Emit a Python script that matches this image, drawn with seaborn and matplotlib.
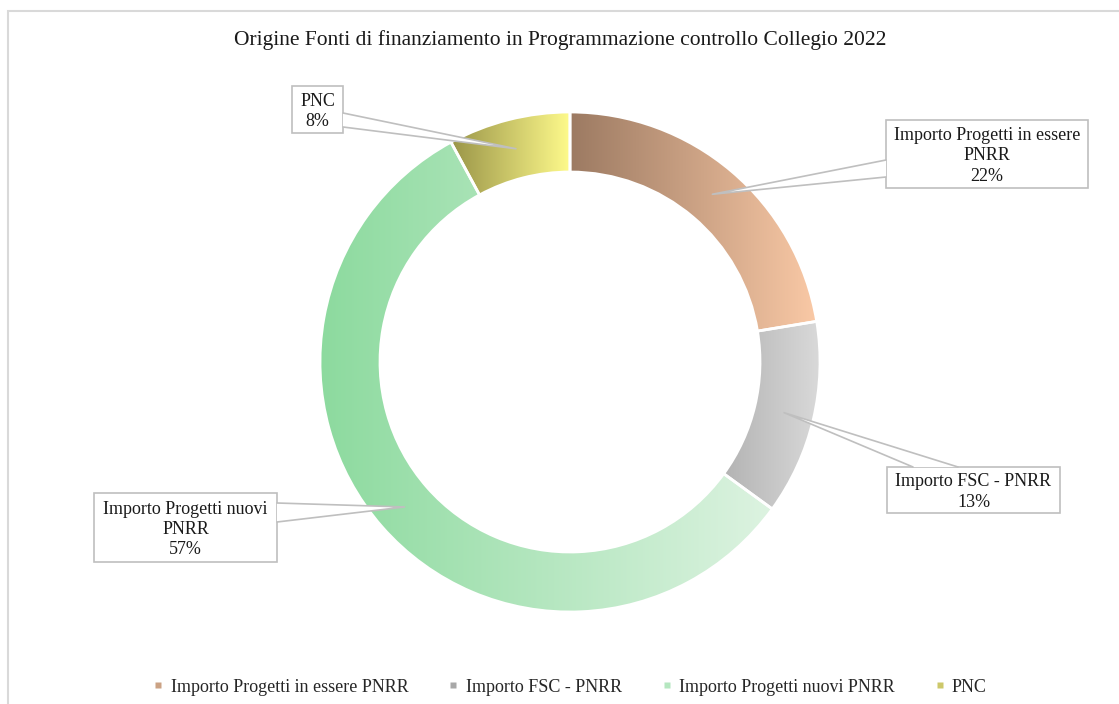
import numpy as np
import matplotlib.pyplot as plt
import seaborn as sns
from matplotlib.patches import Rectangle, Polygon
from matplotlib.lines import Line2D

# dati (quote percentuali)
categorie = ["Importo Progetti in essere PNRR", "Importo FSC - PNRR",
             "Importo Progetti nuovi PNRR", "PNC"]
etichette = ["Importo Progetti in essere\nPNRR", "Importo FSC - PNRR",
             "Importo Progetti nuovi\nPNRR", "PNC"]
quote = [22.4, 12.6, 57.1, 7.9]

# gradienti (sinistra -> destra)
col_sx = ["#9c7a62", "#767676", "#8cda9e", "#9a9548"]
col_dx = ["#fac9a6", "#dadada", "#ddf3e1", "#fffb8c"]

titolo = "Origine Fonti di finanziamento in Programmazione controllo Collegio 2022"

sns.set_theme(style="white")
plt.rcParams["font.family"] = ["Liberation Serif", "DejaVu Serif"]

W, H = 1119, 704
fig = plt.figure(figsize=(W / 100, H / 100), dpi=100)
fig.patch.set_facecolor("white")

# centro ciambella (pixel) e raggio
cx, cy, R = 570, 342, 250
ax = fig.add_axes([(cx - R) / W, (cy - R) / H, 2 * R / W, 2 * R / H])
ax.axis("off")

wedges, _ = ax.pie(quote, startangle=90, counterclock=False, radius=1,
                   wedgeprops=dict(width=0.24, edgecolor="white", linewidth=2))

for w, c1, c2 in zip(wedges, col_sx, col_dx):
    verts = w.get_patch_transform().transform(w.get_path().vertices)
    x0, x1 = verts[:, 0].min(), verts[:, 0].max()
    y0, y1 = verts[:, 1].min(), verts[:, 1].max()
    cmap = sns.blend_palette([c1, c2], 256, as_cmap=True)
    grad = np.linspace(0, 1, 256).reshape(1, -1)
    im = ax.imshow(grad, cmap=cmap, extent=[x0, x1, y0, y1], aspect="auto",
                   interpolation="bilinear", zorder=1)
    im.set_clip_path(w)
    w.set_facecolor("none")
    w.set_zorder(2)

ax.set_xlim(-1, 1)
ax.set_ylim(-1, 1)

# riquadri etichette in pixel (x0, x1, y0_top, y1_top) e base del puntatore
def px(x, y):
    return ((x - 570) / R, (362 - y) / R)

box_px = [(886, 1088, 120, 188), (887, 1060, 467, 513),
          (94, 277, 493, 562), (292, 343, 86, 133)]
base_px = [((886, 160), (886, 177)), ((913, 467), (958, 467)),
           ((277, 503), (277, 522)), ((343, 113), (343, 127))]

grigio = "#bfbfbf"
for w, lab, q, b, bp in zip(wedges, etichette, quote, box_px, base_px):
    mid = np.deg2rad((w.theta1 + w.theta2) / 2)
    tip = (0.88 * np.cos(mid), 0.88 * np.sin(mid))
    (bx0, by0), (bx1, by1) = px(b[0], b[2]), px(b[1], b[3])
    ax.add_patch(Rectangle((bx0, by1), bx1 - bx0, by0 - by1, fc="white",
                           ec=grigio, lw=1.2, zorder=5, clip_on=False))
    p1, p2 = px(*bp[0]), px(*bp[1])
    ax.add_patch(Polygon([p1, tip, p2], closed=True, fc="white", ec="none",
                         zorder=6, clip_on=False))
    ax.add_line(Line2D([p1[0], tip[0], p2[0]], [p1[1], tip[1], p2[1]],
                       color=grigio, lw=1.2, zorder=7, clip_on=False))
    ax.text((bx0 + bx1) / 2, (by0 + by1) / 2 - 2 / R, f"{lab}\n{round(q)}%",
            ha="center", va="center", fontsize=13, linespacing=1.25,
            color="#1a1a1a", zorder=8)

fig.text(0.5 + 1 / W, 1 - 40 / H, titolo, ha="center", va="center",
         fontsize=15.5, color="#1a1a1a")

handles = [Line2D([], [], ls="none", marker="s", markersize=5,
                  markerfacecolor=sns.blend_palette([c1, c2], 3)[1],
                  markeredgecolor="none")
           for c1, c2 in zip(col_sx, col_dx)]
fig.legend(handles, categorie, loc="center", bbox_to_anchor=(569 / W, 1 - 687 / H),
           ncol=4, frameon=False, fontsize=13, handlelength=0.8,
           handletextpad=0.27, columnspacing=2.1)

# cornice del grafico
fig.add_artist(Rectangle((8 / W, -0.05), 1.1, 1.05 - 11 / H, transform=fig.transFigure,
                         fill=False, ec="#d9d9d9", lw=1.5))

fig.savefig("out.png", dpi=100)
